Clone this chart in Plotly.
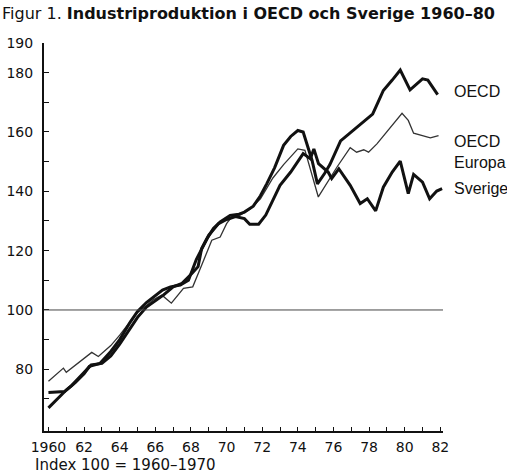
import plotly.graph_objects as go

# ---- data ----
oecd_years = [1960.0, 1960.5, 1961.0, 1961.5, 1962.0, 1962.3, 1962.9, 1963.5, 1964.0, 1964.6,
              1965.0, 1965.5, 1966.0, 1966.4, 1966.85, 1967.4, 1967.86, 1968.1, 1968.3, 1968.9,
              1969.26, 1969.64, 1970.2, 1970.7, 1971.0, 1971.5, 1971.9, 1972.26, 1972.7, 1973.2,
              1973.6, 1974.0, 1974.3, 1974.8, 1975.1, 1975.5, 1975.8, 1976.4, 1977.0, 1977.6,
              1978.2, 1978.5, 1978.8, 1979.3, 1979.75, 1980.3, 1981.0, 1981.3, 1981.85]
oecd_values = [67.0, 70.0, 73.0, 75.5, 78.5, 81.0, 82.0, 86.0, 90.0, 96.0,
               99.5, 102.5, 105.0, 106.7, 107.8, 108.4, 110.0, 114.0, 117.0, 124.0,
               127.5, 129.7, 131.9, 132.3, 133.0, 135.0, 138.5, 142.6, 148.0, 155.5,
               158.5, 160.5, 160.0, 150.4, 142.5, 146.0, 149.0, 157.0, 160.0, 163.0,
               166.0, 170.0, 174.0, 177.5, 180.9, 174.2, 177.9, 177.5, 172.6]

europa_years = [1960.0, 1960.84, 1961.0, 1962.43, 1962.8, 1963.5, 1964.0, 1964.96, 1965.5, 1965.9,
                1966.37, 1966.9, 1967.58, 1968.1, 1968.6, 1969.17, 1969.64, 1970.0, 1970.3, 1970.76,
                1971.3, 1971.9, 1972.6, 1973.2, 1974.0, 1974.4, 1975.15, 1976.2, 1976.94, 1977.3,
                1977.7, 1977.97, 1978.44, 1979.85, 1980.2, 1980.5, 1981.44, 1981.9]
europa_values = [76.0, 80.4, 79.0, 85.7, 84.3, 88.0, 91.5, 99.0, 101.5, 103.5,
                 105.0, 102.3, 107.3, 107.8, 115.1, 123.5, 124.6, 129.1, 131.5, 132.0,
                 134.0, 137.5, 144.5, 149.0, 154.3, 153.8, 138.1, 148.2, 154.7, 153.2,
                 154.0, 153.2, 156.0, 166.3, 163.9, 159.6, 158.0, 158.8]

sverige_years = [1960.0, 1960.9, 1961.3, 1961.7, 1962.1, 1962.4, 1963.0, 1963.5, 1964.0, 1964.6,
                 1965.0, 1965.5, 1966.0, 1966.45, 1967.0, 1967.5, 1968.05, 1968.4, 1968.6, 1969.0,
                 1969.55, 1970.0, 1970.5, 1971.0, 1971.3, 1971.8, 1972.2, 1972.6, 1973.0, 1973.6,
                 1974.3, 1974.7, 1974.9, 1975.16, 1975.7, 1975.9, 1976.3, 1976.94, 1977.5, 1977.9,
                 1978.37, 1978.8, 1979.3, 1979.75, 1980.2, 1980.5, 1981.0, 1981.4, 1981.8, 1982.1]
sverige_values = [72.2, 72.5, 74.5, 77.0, 79.5, 81.5, 82.0, 84.5, 88.5, 94.0,
                  97.5, 101.0, 103.0, 105.0, 107.8, 109.0, 112.3, 114.6, 120.7, 125.2,
                  129.1, 130.5, 131.5, 130.8, 128.9, 128.9, 132.0, 137.0, 142.0, 146.5,
                  152.7, 151.0, 154.3, 149.3, 146.5, 144.3, 147.6, 142.0, 135.9, 137.5,
                  133.4, 141.4, 146.5, 150.2, 139.2, 145.7, 143.1, 137.5, 140.1, 140.9]

x_tick_years = list(range(1960, 1983))
x_label_years = list(range(1960, 1983, 2))
x_label_text = ["1960", "62", "64", "66", "68", "70", "72", "74", "76", "78", "80", "82"]
y_tick_values = [70, 80, 90, 100, 110, 120, 130, 140, 150, 160, 170, 180, 190]
y_label_values = [80, 100, 120, 140, 160, 180, 190]

series_labels = [("OECD", 173.5), ("OECD<br>Europa", 153.3), ("Sverige", 140.8)]

FONT = "Liberation Sans, Arial, Helvetica, sans-serif"
WIDE = "DejaVu Sans, Verdana, sans-serif"

W, H = 507, 473
ML, MR, MT, MB = 44, 64, 43, 42
PW, PH = W - ML - MR, H - MT - MB


def px_to_paper(px, py):
    return (px - ML) / PW, (H - MB - py) / PH


fig = go.Figure()
fig.add_trace(go.Scatter(x=europa_years, y=europa_values, mode="lines",
                         line=dict(color="#333333", width=1.3), name="OECD Europa"))
fig.add_trace(go.Scatter(x=oecd_years, y=oecd_values, mode="lines",
                         line=dict(color="#111111", width=3), name="OECD"))
fig.add_trace(go.Scatter(x=sverige_years, y=sverige_values, mode="lines",
                         line=dict(color="#111111", width=3), name="Sverige"))

# reference line at index 100
fig.add_shape(type="line", xref="x", yref="y", x0=1959.75, x1=1982.2, y0=100, y1=100,
              line=dict(color="#444444", width=1))

ticktext_y = [str(v) if v in y_label_values else "" for v in y_tick_values]
ticktext_x = []
for yr in x_tick_years:
    if yr in x_label_years:
        ticktext_x.append(x_label_text[x_label_years.index(yr)])
    else:
        ticktext_x.append("")

fig.update_xaxes(range=[1959.75, 1982.15], tickmode="array", tickvals=x_tick_years,
                 ticktext=ticktext_x, ticks="inside", ticklen=4, tickwidth=1, tickcolor="#111",
                 showline=True, linecolor="#111", linewidth=1.5, showgrid=False, zeroline=False,
                 automargin=False, ticklabelstandoff=2,
                 tickfont=dict(family=WIDE, size=14, color="#111"))
fig.update_yaxes(range=[59.2, 190], tickmode="array", tickvals=y_tick_values,
                 ticktext=ticktext_y, ticks="inside", ticklen=5, tickwidth=1, tickcolor="#111",
                 showline=True, linecolor="#111", linewidth=2, showgrid=False, zeroline=False,
                 automargin=False, ticklabelstandoff=6,
                 tickfont=dict(family=WIDE, size=14, color="#111"))

for text, yv in series_labels:
    fig.add_annotation(x=px_to_paper(452, 0)[0], y=yv, xref="paper", yref="y", text=text,
                       showarrow=False, xanchor="left", yanchor="middle", align="left",
                       font=dict(family=FONT, size=16, color="#111"))

ix, iy = px_to_paper(33, 465)
fig.add_annotation(x=ix, y=iy, xref="paper", yref="paper", text="Index 100 = 1960–1970",
                   showarrow=False, xanchor="left", yanchor="middle",
                   font=dict(family=WIDE, size=15, color="#111"))

fig.update_layout(
    width=W, height=H,
    margin=dict(l=ML, r=MR, t=MT, b=MB, autoexpand=False),
    paper_bgcolor="white", plot_bgcolor="white",
    showlegend=False,
    title=dict(text="Figur 1. <b>Industriproduktion i OECD och Sverige 1960–80</b>",
               x=2 / W, xanchor="left", y=1 - 13 / H, yanchor="middle",
               xref="container", yref="container",
               font=dict(family=WIDE, size=16, color="#111")),
)

fig.write_html("out.html", config={"displayModeBar": False},
               post_script="document.body.style.margin='0';")
